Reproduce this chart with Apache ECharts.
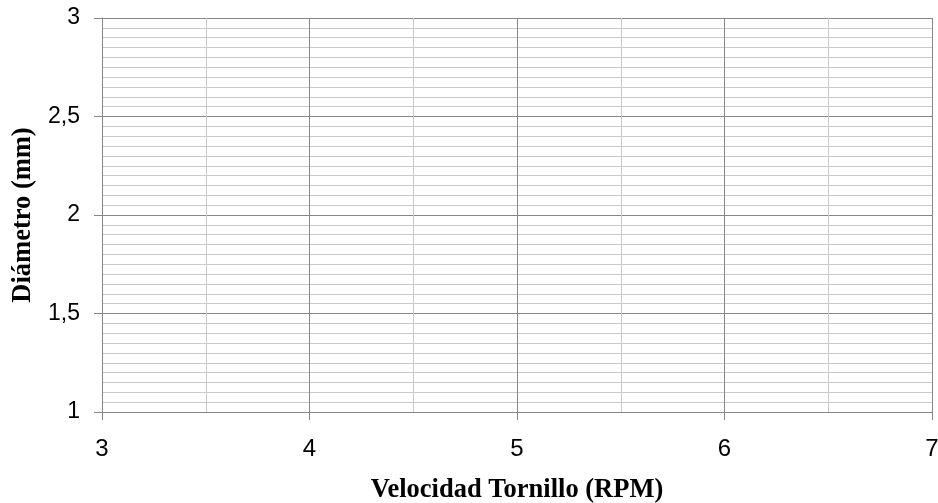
<!DOCTYPE html>
<html>
<head>
<meta charset="utf-8">
<script src="https://cdn.jsdelivr.net/npm/echarts@6/dist/echarts.min.js"></script>
<style>
html,body{margin:0;padding:0;background:#fff;}
#chart{width:938px;height:503px;}
</style>
</head>
<body>
<div id="chart"></div>
<script>
// Axis ranges and tick labels (the reference chart contains no data marks)
const xTickValues = [3, 4, 5, 6, 7];
const yTickValues = [1, 1.5, 2, 2.5, 3];
const xTitle = 'Velocidad Tornillo (RPM)';
const yTitle = 'Diámetro (mm)';
const seriesData = [];

const chart = echarts.init(document.getElementById('chart'));
const titleFont = {fontFamily: 'Liberation Serif', fontSize: 26.5, fontWeight: 'bold', color: '#000'};
const majorColor = '#878787';
const minorColor = '#c9c9c9';

chart.setOption({
  animation: false,
  backgroundColor: '#fff',
  grid: {left: 102, right: 6, top: 18, bottom: 91, containLabel: false, outerBoundsMode: 'none'},
  xAxis: {
    type: 'value',
    min: xTickValues[0],
    max: xTickValues[xTickValues.length - 1],
    interval: 1,
    name: xTitle,
    nameLocation: 'middle',
    nameGap: 65,
    nameTextStyle: titleFont,
    axisLine: {show: true, lineStyle: {color: majorColor, width: 1}},
    axisTick: {show: true, length: 8, lineStyle: {color: majorColor}},
    axisLabel: {margin: 25, fontFamily: 'Liberation Sans', fontSize: 24, color: '#000'},
    splitLine: {show: true, lineStyle: {color: majorColor, width: 1}},
    minorTick: {show: false, splitNumber: 2},
    minorSplitLine: {show: true, lineStyle: {color: minorColor, width: 1}}
  },
  yAxis: {
    type: 'value',
    min: yTickValues[0],
    max: yTickValues[yTickValues.length - 1],
    interval: 0.5,
    name: yTitle,
    nameLocation: 'middle',
    nameGap: 63,
    nameTextStyle: titleFont,
    axisLine: {show: true, lineStyle: {color: majorColor, width: 1}},
    axisTick: {show: true, length: 8, lineStyle: {color: majorColor}},
    axisLabel: {margin: 22, fontFamily: 'Liberation Sans', fontSize: 23, color: '#000',
      padding: [4, 0, 0, 0], formatter: v => String(v).replace('.', ',')},
    splitLine: {show: true, lineStyle: {color: majorColor, width: 1}},
    minorTick: {show: false, splitNumber: 10},
    minorSplitLine: {show: true, lineStyle: {color: minorColor, width: 1}}
  },
  series: [{type: 'scatter', data: seriesData}]
});
</script>
</body>
</html>
